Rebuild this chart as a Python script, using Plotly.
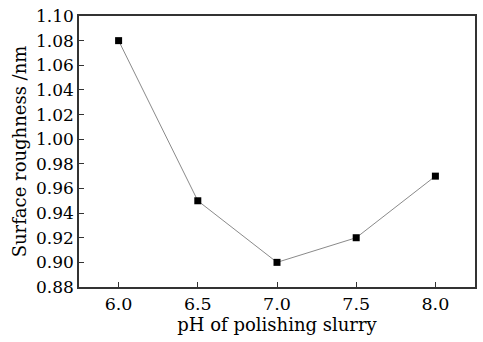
import plotly.graph_objects as go

ph = [6.0, 6.5, 7.0, 7.5, 8.0]
roughness = [1.08, 0.95, 0.90, 0.92, 0.97]
x_ticks = [6.0, 6.5, 7.0, 7.5, 8.0]
x_tick_labels = ["6.0", "6.5", "7.0", "7.5", "8.0"]
y_ticks = [0.88, 0.90, 0.92, 0.94, 0.96, 0.98, 1.00, 1.02, 1.04, 1.06, 1.08, 1.10]
y_tick_labels = ["%.2f" % v for v in y_ticks]

font = "DejaVu Serif"

fig = go.Figure()
fig.add_trace(go.Scatter(
    x=ph, y=roughness, mode="lines+markers",
    line=dict(color="#8a8a8a", width=1),
    marker=dict(symbol="square", size=7, color="black"),
    showlegend=False,
))

fig.update_layout(
    width=483, height=342,
    margin=dict(l=79, r=6, t=12, b=55),
    plot_bgcolor="white", paper_bgcolor="white",
    font=dict(family=font, size=17, color="black"),
    xaxis=dict(
        range=[5.75, 8.25], tickvals=x_ticks, ticktext=x_tick_labels,
        ticks="inside", ticklen=5, tickwidth=1.2, tickcolor="#333",
        showline=True, linecolor="#333", linewidth=1.5, mirror=True,
        showgrid=False, zeroline=False,
        tickfont=dict(size=17.5),
        title=dict(text="pH of polishing slurry", standoff=5, font=dict(size=18)),
    ),
    yaxis=dict(
        range=[0.88, 1.10], tickvals=y_ticks, ticktext=y_tick_labels,
        ticks="inside", ticklen=5, tickwidth=1.2, tickcolor="#333",
        showline=True, linecolor="#333", linewidth=1.5, mirror=True,
        showgrid=False, zeroline=False,
        tickfont=dict(size=17),
        title=dict(text="Surface roughness /nm", standoff=5, font=dict(size=18)),
    ),
)

fig.write_html("out.html")
